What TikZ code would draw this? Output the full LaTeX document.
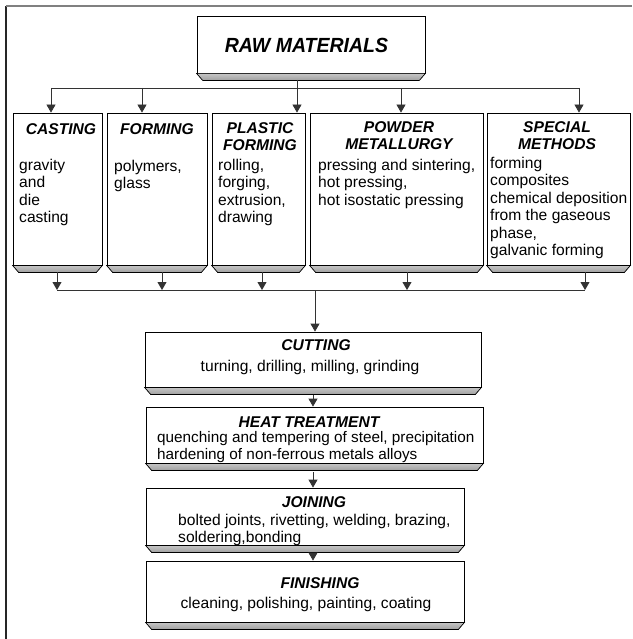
\documentclass[tikz,border=0pt]{standalone}
\usepackage{fontspec}
\usepackage{graphicx}
\setmainfont{Liberation Sans}
\usetikzlibrary{arrows.meta,fit,calc}
\newcommand\mkshadow[1]{%
  \filldraw[shad] (#1.south west) -- (#1.south east)
    -- ([xshift=-6pt,yshift=-7pt]#1.south east)
    -- ([xshift=6pt,yshift=-7pt]#1.south west) -- cycle;
  \draw[black, line width=1.3pt] ([xshift=6pt,yshift=-7pt]#1.south west) -- ([xshift=-6pt,yshift=-7pt]#1.south east);}
\begin{document}
\begin{tikzpicture}[x=1pt,y=-1pt,
  pbox/.style={draw=black, line width=0.8pt, fill=white, inner sep=0pt},
  shad/.style={top color=gray!45, bottom color=gray!75, draw=black, line width=0.7pt},
  ttl/.style={font=\fontsize{15.6}{16.5}\selectfont\bfseries\itshape, align=center, anchor=north, inner sep=0pt},
  body/.style={font=\fontsize{15.6}{17.5}\selectfont, align=left, anchor=north west, inner sep=0pt},
  bodyc/.style={body, align=center, anchor=north},
  conn/.style={draw=black!80, line width=0.8pt},
  arr/.style={conn, -{Triangle[width=9pt,length=8pt]}},
]
\useasboundingbox (0,0) rectangle (632,639);
% outer frame
\draw[black!85, line width=1.2pt] (6,6) -- (6,639);
\draw[gray, line width=1.8pt] (6,6) -- (632,6);

% boxes
\node[pbox, fit={(197,16) (425,73)}] (raw) {};
\node[pbox, fit={(13,113) (102,265)}] (cast) {};
\node[pbox, fit={(107,113) (207,265)}] (form) {};
\node[pbox, fit={(212,113) (305,265)}] (plastic) {};
\node[pbox, fit={(310,113) (483,265)}] (powder) {};
\node[pbox, fit={(487,113) (630,265)}] (special) {};
\node[pbox, fit={(145,332) (481,387)}] (cut) {};
\node[pbox, fit={(146,407) (483,463)}] (heat) {};
\node[pbox, fit={(146,488) (464,545)}] (join) {};
\node[pbox, fit={(146,561) (464,622)}] (fin) {};
\mkshadow{raw}
\mkshadow{cast}
\mkshadow{form}
\mkshadow{plastic}
\mkshadow{powder}
\mkshadow{special}
\mkshadow{cut}
\mkshadow{heat}
\mkshadow{join}
\mkshadow{fin}

% texts
\node[inner sep=0pt, font=\fontsize{19.5}{20}\selectfont\bfseries\itshape] (rawt) at (306.5,45) {\scalebox{1}[1.05]{RAW MATERIALS}};
\node[ttl] (castt) at (61,123) {\strut CASTING};
\node[body] (castb) at (19,158) {\strut gravity\\and\\die\\casting};
\node[ttl] (formt) at (157,123) {\strut FORMING};
\node[body] (formb) at (114,159) {\strut polymers,\\glass};
\node[ttl] (plastt) at (260,122) {\strut PLASTIC\\FORMING};
\node[body] (plastb) at (218,158) {\strut rolling,\\forging,\\extrusion,\\drawing};
\node[ttl] (powt) at (399,121) {\strut POWDER\\METALLURGY};
\node[body] (powb) at (318,158) {\strut pressing and sintering,\\hot pressing,\\hot isostatic pressing};
\node[ttl] (spect) at (557,121) {\strut SPECIAL\\METHODS};
\node[body] (specb) at (490,156) {\strut forming\\composites\\chemical deposition\\from the gaseous\\phase,\\galvanic forming};
\node[ttl] (cutt) at (316,339) {\strut CUTTING};
\node[bodyc] (cutb) at (310,359) {\strut turning, drilling, milling, grinding};
\node[ttl] (heatt) at (309,416) {\strut HEAT TREATMENT};
\node[body, font=\fontsize{15.3}{17.5}\selectfont] (heatb) at (157,430) {\strut quenching and tempering of steel, precipitation\\hardening of non-ferrous metals alloys};
\node[ttl] (joint) at (314,496) {\strut JOINING};
\node[body] (joinb) at (178,513) {\strut bolted joints, rivetting, welding, brazing,\\soldering,bonding};
\node[ttl] (fint) at (320,577) {\strut FINISHING};
\node[bodyc] (finb) at (306,596) {\strut cleaning, polishing, painting, coating};

% connectors: top
\coordinate (rawout) at (297,80);
\draw[arr] (rawout) -- (rawout |- plastic.north);
\coordinate (tbL) at (51,88);
\coordinate (tbF) at (142,88);
\coordinate (tbP) at (401,88);
\coordinate (tbR) at (579,88);
\draw[conn] (tbL) -- (tbR);
\draw[arr] (tbL) -- (tbL |- cast.north);
\draw[arr] (tbF) -- (tbF |- form.north);
\draw[arr] (tbP) -- (tbP |- powder.north);
\draw[arr] (tbR) -- (tbR |- special.north);

% connectors: bottom bus
\coordinate (bbL) at (57,290);
\coordinate (bbR) at (585,290);
\coordinate (bbC) at (315,290);
\coordinate (o1) at (57,272);
\coordinate (o2) at (162,272);
\coordinate (o3) at (262,272);
\coordinate (o4) at (407,272);
\coordinate (o5) at (585,272);
\draw[conn] (bbL) -- (bbR);
\foreach \o in {o1,o2,o3,o4,o5} \draw[arr] (\o) -- (\o |- bbL);
\draw[arr] (bbC) -- (bbC |- cut.north);

% chain
\coordinate (cutout) at (313,395);
\coordinate (heatout) at (313,472);
\coordinate (joinout) at (313,553);
\draw[arr] (cutout) -- (cutout |- heat.north);
\draw[arr] (heatout) -- (heatout |- join.north);
\draw[arr] (joinout) -- (joinout |- fin.north);
\end{tikzpicture}
\end{document}
